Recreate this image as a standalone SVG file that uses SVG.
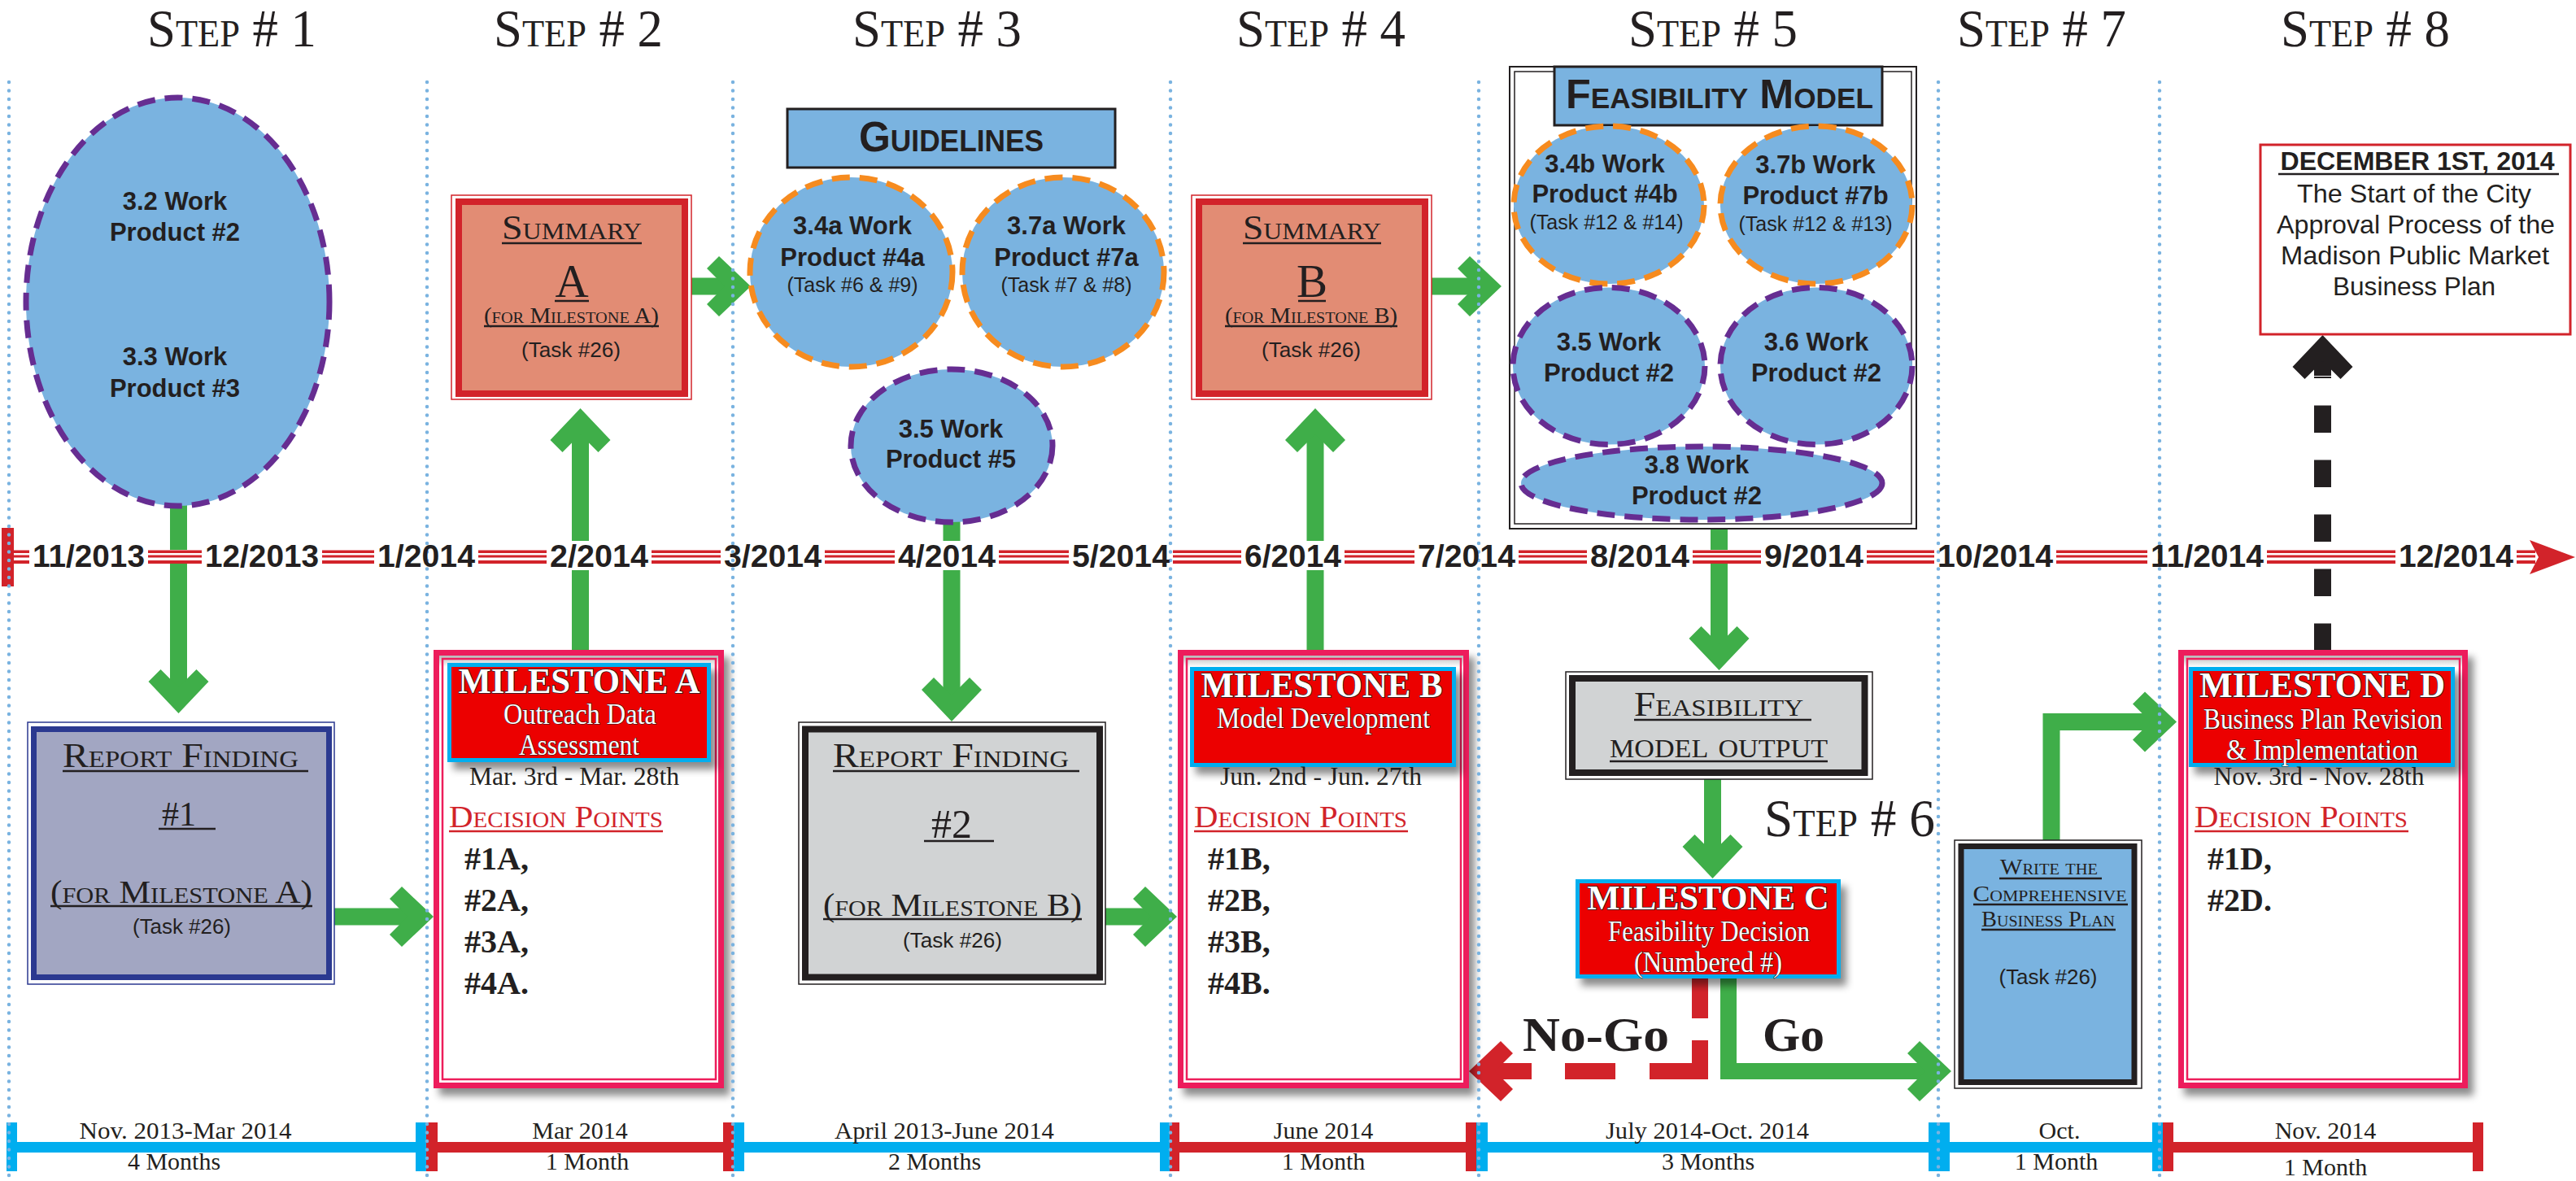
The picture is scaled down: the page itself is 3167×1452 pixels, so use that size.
<svg xmlns="http://www.w3.org/2000/svg" width="3167" height="1452" viewBox="0 0 3167 1452">
<defs>
<style>
.step{font-family:"Liberation Serif",serif;font-size:65px;font-variant:small-caps;fill:#231f20;text-anchor:middle}
.tl{font-family:"Liberation Sans",Arial,sans-serif;font-weight:bold;font-size:39px;fill:#231f20;text-anchor:middle}
.wp{font-family:"Liberation Sans",Arial,sans-serif;font-weight:bold;font-size:31px;fill:#231f20;text-anchor:middle}
.tk{font-family:"Liberation Sans",Arial,sans-serif;font-size:25px;fill:#231f20;text-anchor:middle}
.sc{font-family:"Liberation Serif",serif;font-variant:small-caps;fill:#231f20;text-anchor:middle}
.hd{font-family:"Liberation Sans",Arial,sans-serif;font-weight:bold;font-variant:small-caps;fill:#231f20;text-anchor:middle}
.mt{font-family:"Liberation Serif",serif;font-weight:bold;fill:#fff;stroke:#231f20;stroke-width:1.6px;paint-order:stroke;text-anchor:middle}
.ms{font-family:"Liberation Serif",serif;fill:#fff;stroke:#231f20;stroke-width:1.2px;paint-order:stroke;text-anchor:middle}
.dt{font-family:"Liberation Serif",serif;font-size:31px;fill:#231f20;text-anchor:middle}
.dp{font-family:"Liberation Serif",serif;font-variant:small-caps;font-size:38px;fill:#d2232a}
.pt{font-family:"Liberation Serif",serif;font-weight:bold;font-size:40px;fill:#231f20}
.dur{font-family:"Liberation Serif",serif;font-size:30px;fill:#231f20;text-anchor:middle}
.big{font-family:"Liberation Serif",serif;font-weight:bold;font-size:60px;fill:#231f20;text-anchor:middle}
.dec{font-family:"Liberation Sans",Arial,sans-serif;font-size:32px;fill:#231f20;text-anchor:middle}
.wpE{fill:#7ab3e0;stroke-width:7;stroke-dasharray:22 12}
.pur{stroke:#662d91}
.org{stroke:#f68b1f}
.grid{stroke:#7ab3e0;stroke-width:4.5;stroke-linecap:round;stroke-dasharray:0 10.5;fill:none}
.ul{stroke:#231f20;stroke-width:2.5}
.ulr{stroke:#d2232a;stroke-width:2.5}
.mbox{fill:#fff;stroke:#ed1e5b;stroke-width:7}
.mbi{fill:none;stroke:#ed1e5b;stroke-width:2.5}
.mhb{fill:#00aeef}
.mhr{fill:#ec0000}
.sumO{fill:#fff;stroke:#d2232a;stroke-width:1.5}
.sumI{fill:#e28c74;stroke:#d2232a;stroke-width:8}
.blkO{fill:#fff;stroke:#231f20;stroke-width:1.5}
.g{fill:#3fae49}
.gs{stroke:#3fae49;fill:none;stroke-linejoin:miter}
.bl{fill:#00aeef}
.rd{fill:#d2232a}
</style>
<path id="ah" d="M0,0 L-37,-39 L-22,-54 L0,-32 L22,-54 L37,-39 Z"/>
<filter id="sh" x="-10%" y="-10%" width="130%" height="130%"><feDropShadow dx="7" dy="9" stdDeviation="5" flood-color="#000" flood-opacity="0.45"/></filter>
<linearGradient id="topsh" x1="0" y1="0" x2="0" y2="1"><stop offset="0" stop-color="#9a9a9a" stop-opacity="0.7"/><stop offset="1" stop-color="#9a9a9a" stop-opacity="0"/></linearGradient>
</defs>
<rect x="0" y="0" width="3167" height="1452" fill="#fff"/>

<g id="step-headers">
<text class="step" x="285" y="57" textLength="208" lengthAdjust="spacingAndGlyphs">Step # 1</text>
<text class="step" x="711" y="57" textLength="208" lengthAdjust="spacingAndGlyphs">Step # 2</text>
<text class="step" x="1152" y="57" textLength="208" lengthAdjust="spacingAndGlyphs">Step # 3</text>
<text class="step" x="1624" y="57" textLength="208" lengthAdjust="spacingAndGlyphs">Step # 4</text>
<text class="step" x="2106" y="57" textLength="208" lengthAdjust="spacingAndGlyphs">Step # 5</text>
<text class="step" x="2510" y="57" textLength="208" lengthAdjust="spacingAndGlyphs">Step # 7</text>
<text class="step" x="2908" y="57" textLength="208" lengthAdjust="spacingAndGlyphs">Step # 8</text>
<text class="step" x="2274" y="1028" textLength="210" lengthAdjust="spacingAndGlyphs">Step # 6</text>
</g>

<g id="connectors">
<rect class="g" x="209" y="620" width="21" height="235"/>
<use href="#ah" class="g" transform="translate(219.5,877)"/>
<rect class="g" x="703" y="525" width="21" height="276"/>
<use href="#ah" class="g" transform="translate(713.5,502) rotate(180)"/>
<rect class="g" x="849" y="341.5" width="52" height="21"/>
<use href="#ah" class="g" transform="translate(923,352) rotate(-90)"/>
<rect class="g" x="1759" y="341.5" width="65" height="21"/>
<use href="#ah" class="g" transform="translate(1846,352) rotate(-90)"/>
<rect class="g" x="1159.5" y="640" width="21" height="225"/>
<use href="#ah" class="g" transform="translate(1170,887)"/>
<rect class="g" x="1606.5" y="525" width="21" height="276"/>
<use href="#ah" class="g" transform="translate(1617,502) rotate(180)"/>
<rect class="g" x="2103" y="649" width="21" height="153"/>
<use href="#ah" class="g" transform="translate(2113.5,824)"/>
<rect class="g" x="2095" y="957" width="21" height="101"/>
<use href="#ah" class="g" transform="translate(2105.5,1080)"/>
<rect class="g" x="410" y="1116.5" width="102" height="21"/>
<use href="#ah" class="g" transform="translate(533,1127) rotate(-90)"/>
<rect class="g" x="1358" y="1116.5" width="68" height="21"/>
<use href="#ah" class="g" transform="translate(1447,1127) rotate(-90)"/>
<path class="gs" stroke-width="21" d="M2522,1034 L2522,887.5 L2656,887.5"/>
<use href="#ah" class="g" transform="translate(2676,887.5) rotate(-90)"/>
<path class="gs" stroke-width="20" d="M2125,1202 L2125,1317 L2378,1317"/>
<use href="#ah" class="g" transform="translate(2399,1317) rotate(-90)"/>
<path d="M2090,1202 L2090,1317 L1830,1317" fill="none" stroke="#d2232a" stroke-width="20" stroke-dasharray="50 27 100 42 62 41 200"/>
<use href="#ah" class="rd" transform="translate(1806,1317) rotate(90)"/>
<line x1="2855.5" y1="800" x2="2855.5" y2="463" stroke="#231f20" stroke-width="21" stroke-dasharray="33.5 33.5"/>
<rect x="2845" y="438" width="21" height="24" fill="#231f20"/>
<use href="#ah" fill="#231f20" transform="translate(2855.5,412) rotate(180)"/>
</g>

<g id="wp-3-2-3-3">
<ellipse class="wpE pur" cx="218.5" cy="371" rx="186.5" ry="251"/>
<text class="wp" x="215" y="258">3.2 Work</text>
<text class="wp" x="215" y="296">Product #2</text>
<text class="wp" x="215" y="449">3.3 Work</text>
<text class="wp" x="215" y="488">Product #3</text>
</g>

<g id="summary-a">
<rect class="sumO" x="555" y="240" width="295" height="251"/>
<rect class="sumI" x="564" y="248" width="278" height="236"/>
<text class="sc" x="703" y="294" font-size="43" textLength="172" lengthAdjust="spacingAndGlyphs">Summary</text>
<line class="ul" x1="617" y1="299" x2="789" y2="299"/>
<text class="sc" x="703" y="365" font-size="57">A</text>
<line class="ul" x1="682" y1="370" x2="724" y2="370"/>
<text class="sc" x="702.5" y="397" font-size="27" textLength="215" lengthAdjust="spacingAndGlyphs">(for Milestone A)</text>
<line class="ul" x1="595" y1="401" x2="810" y2="401" stroke-width="1.5"/>
<text class="tk" x="702" y="439" font-size="27" textLength="122" lengthAdjust="spacingAndGlyphs">(Task #26)</text>
</g>

<g id="summary-b">
<rect class="sumO" x="1465" y="240" width="295" height="251"/>
<rect class="sumI" x="1474" y="248" width="278" height="236"/>
<text class="sc" x="1613" y="294" font-size="43" textLength="170" lengthAdjust="spacingAndGlyphs">Summary</text>
<line class="ul" x1="1528" y1="299" x2="1698" y2="299"/>
<text class="sc" x="1613" y="365" font-size="57">B</text>
<line class="ul" x1="1596" y1="370" x2="1630" y2="370"/>
<text class="sc" x="1612" y="397" font-size="27" textLength="212" lengthAdjust="spacingAndGlyphs">(for Milestone B)</text>
<line class="ul" x1="1506" y1="401" x2="1718" y2="401" stroke-width="1.5"/>
<text class="tk" x="1612" y="439" font-size="27" textLength="122" lengthAdjust="spacingAndGlyphs">(Task #26)</text>
</g>

<g id="guidelines">
<rect x="968" y="134" width="403" height="72" fill="#7ab3e0" stroke="#231f20" stroke-width="3"/>
<text class="hd" x="1169.5" y="186" font-size="51" textLength="227" lengthAdjust="spacingAndGlyphs">Guidelines</text>
</g>

<g id="wp-3-4a">
<ellipse class="wpE org" cx="1046.5" cy="334.5" rx="124.5" ry="116.5"/>
<text class="wp" x="1048" y="288">3.4a Work</text>
<text class="wp" x="1048" y="327">Product #4a</text>
<text class="tk" x="1048" y="359">(Task #6 &amp; #9)</text>
</g>
<g id="wp-3-7a">
<ellipse class="wpE org" cx="1307" cy="334.5" rx="124" ry="116.5"/>
<text class="wp" x="1311" y="288">3.7a Work</text>
<text class="wp" x="1311" y="327">Product #7a</text>
<text class="tk" x="1311" y="359">(Task #7 &amp; #8)</text>
</g>
<g id="wp-3-5-5">
<ellipse class="wpE pur" cx="1170" cy="548" rx="124" ry="94"/>
<text class="wp" x="1169" y="538">3.5 Work</text>
<text class="wp" x="1169" y="575">Product #5</text>
</g>

<g id="feasibility-model">
<rect x="1856" y="82" width="500" height="568" fill="#fff" stroke="#231f20" stroke-width="2"/>
<rect x="1862" y="88" width="488" height="556" fill="none" stroke="#231f20" stroke-width="1.5"/>
<rect x="1911" y="82" width="403" height="72" fill="#7ab3e0" stroke="#231f20" stroke-width="3"/>
<text class="hd" x="2114" y="133" font-size="50" textLength="378" lengthAdjust="spacingAndGlyphs">Feasibility Model</text>
</g>
<g id="wp-3-4b">
<ellipse class="wpE org" cx="1978" cy="252" rx="117" ry="97"/>
<text class="wp" x="1973" y="212">3.4b Work</text>
<text class="wp" x="1973" y="249">Product #4b</text>
<text class="tk" x="1975" y="282">(Task #12 &amp; #14)</text>
</g>
<g id="wp-3-7b">
<ellipse class="wpE org" cx="2233" cy="252" rx="118" ry="97"/>
<text class="wp" x="2232" y="213">3.7b Work</text>
<text class="wp" x="2232" y="251">Product #7b</text>
<text class="tk" x="2232" y="284">(Task #12 &amp; #13)</text>
</g>
<g id="wp-3-5-2">
<ellipse class="wpE pur" cx="1978" cy="450" rx="118" ry="96.5"/>
<text class="wp" x="1978" y="431">3.5 Work</text>
<text class="wp" x="1978" y="469">Product #2</text>
</g>
<g id="wp-3-6">
<ellipse class="wpE pur" cx="2233" cy="450" rx="118" ry="96.5"/>
<text class="wp" x="2233" y="431">3.6 Work</text>
<text class="wp" x="2233" y="469">Product #2</text>
</g>
<g id="wp-3-8">
<ellipse class="wpE pur" cx="2092" cy="594" rx="222" ry="45"/>
<text class="wp" x="2086" y="582">3.8 Work</text>
<text class="wp" x="2086" y="620">Product #2</text>
</g>

<g id="december">
<rect x="2779" y="178" width="381" height="233" fill="#fff" stroke="#d2232a" stroke-width="3"/>
<text class="dec" x="2972" y="209" font-weight="bold" font-size="30" textLength="337" lengthAdjust="spacingAndGlyphs">DECEMBER 1ST, 2014</text>
<line class="ul" x1="2801" y1="214" x2="3146" y2="214"/>
<text class="dec" x="2968" y="249" textLength="288" lengthAdjust="spacingAndGlyphs">The Start of the City</text>
<text class="dec" x="2970" y="287" textLength="342" lengthAdjust="spacingAndGlyphs">Approval Process of the</text>
<text class="dec" x="2969" y="325" textLength="330" lengthAdjust="spacingAndGlyphs">Madison Public Market</text>
<text class="dec" x="2968" y="363" textLength="200" lengthAdjust="spacingAndGlyphs">Business Plan</text>
</g>

<g id="report-finding-1">
<rect x="34" y="888" width="377" height="322" fill="#fff" stroke="#2b3990" stroke-width="1.5"/>
<rect x="41.5" y="896.5" width="363" height="305" fill="#a2a6c2" stroke="#2b3990" stroke-width="7"/>
<text class="sc" x="222" y="943" font-size="42" textLength="290" lengthAdjust="spacingAndGlyphs">Report Finding</text>
<line class="ul" x1="77" y1="948" x2="379" y2="948"/>
<text class="sc" x="220" y="1015" font-size="42">#1</text>
<line class="ul" x1="195" y1="1019" x2="265" y2="1019"/>
<text class="sc" x="223" y="1110" font-size="40" textLength="322" lengthAdjust="spacingAndGlyphs">(for Milestone A)</text>
<line class="ul" x1="62" y1="1114" x2="384" y2="1114"/>
<text class="tk" x="223.5" y="1148" font-size="27" textLength="121" lengthAdjust="spacingAndGlyphs">(Task #26)</text>
</g>

<g id="report-finding-2">
<rect class="blkO" x="982" y="888" width="377" height="322"/>
<rect x="990" y="896.5" width="362" height="305" fill="#d1d3d4" stroke="#231f20" stroke-width="8"/>
<text class="sc" x="1169" y="943" font-size="42" textLength="290" lengthAdjust="spacingAndGlyphs">Report Finding</text>
<line class="ul" x1="1024" y1="948" x2="1327" y2="948"/>
<text class="sc" x="1170" y="1030" font-size="50">#2</text>
<line class="ul" x1="1136" y1="1034" x2="1222" y2="1034"/>
<text class="sc" x="1171" y="1126" font-size="40" textLength="318" lengthAdjust="spacingAndGlyphs">(for Milestone B)</text>
<line class="ul" x1="1012" y1="1130" x2="1330" y2="1130"/>
<text class="tk" x="1171" y="1165" font-size="27" textLength="122" lengthAdjust="spacingAndGlyphs">(Task #26)</text>
</g>

<g id="milestone-a">
<rect class="mbox" x="536.5" y="802.5" width="350" height="532" filter="url(#sh)"/>
<rect x="540" y="806" width="343" height="14" fill="url(#topsh)"/>
<rect class="mbi" x="544" y="810" width="336" height="517"/>
<rect class="mhb" x="550" y="815" width="324" height="122" filter="url(#sh)"/>
<rect class="mhr" x="555" y="820" width="314" height="112"/>
<text class="mt" x="712" y="852" font-size="44" textLength="297" lengthAdjust="spacingAndGlyphs">MILESTONE A</text>
<text class="ms" x="713" y="890" font-size="35" textLength="188" lengthAdjust="spacingAndGlyphs">Outreach Data</text>
<text class="ms" x="712" y="928" font-size="35" textLength="148" lengthAdjust="spacingAndGlyphs">Assessment</text>
<text class="dt" x="706" y="965" textLength="258" lengthAdjust="spacingAndGlyphs">Mar. 3rd - Mar. 28th</text>
<text class="dp" x="552" y="1017" textLength="263" lengthAdjust="spacingAndGlyphs">Decision Points</text>
<line class="ulr" x1="552" y1="1022" x2="815" y2="1022"/>
<text class="pt" x="571" y="1069">#1A,</text>
<text class="pt" x="571" y="1120">#2A,</text>
<text class="pt" x="571" y="1171">#3A,</text>
<text class="pt" x="571" y="1222">#4A.</text>
</g>

<g id="milestone-b">
<rect class="mbox" x="1451.5" y="802.5" width="351" height="532" filter="url(#sh)"/>
<rect x="1455" y="806" width="344" height="14" fill="url(#topsh)"/>
<rect class="mbi" x="1459" y="810" width="337" height="517"/>
<rect class="mhb" x="1463" y="820" width="327" height="123" filter="url(#sh)"/>
<rect class="mhr" x="1468" y="825" width="317" height="113"/>
<text class="mt" x="1625" y="857" font-size="44" textLength="297" lengthAdjust="spacingAndGlyphs">MILESTONE B</text>
<text class="ms" x="1627" y="895" font-size="35" textLength="262" lengthAdjust="spacingAndGlyphs">Model Development</text>
<text class="dt" x="1624" y="965" textLength="248" lengthAdjust="spacingAndGlyphs">Jun. 2nd - Jun. 27th</text>
<text class="dp" x="1468" y="1017" textLength="262" lengthAdjust="spacingAndGlyphs">Decision Points</text>
<line class="ulr" x1="1468" y1="1022" x2="1731" y2="1022"/>
<text class="pt" x="1485" y="1069">#1B,</text>
<text class="pt" x="1485" y="1120">#2B,</text>
<text class="pt" x="1485" y="1171">#3B,</text>
<text class="pt" x="1485" y="1222">#4B.</text>
</g>

<g id="feasibility-output">
<rect class="blkO" x="1925" y="826" width="377" height="132"/>
<rect x="1933" y="834" width="359.5" height="116" fill="#d1d3d4" stroke="#231f20" stroke-width="8"/>
<text class="sc" x="2113" y="880" font-size="43" textLength="208" lengthAdjust="spacingAndGlyphs">Feasibility</text>
<line class="ul" x1="2009" y1="885" x2="2227" y2="885"/>
<text class="sc" x="2113" y="931" font-size="44" textLength="268" lengthAdjust="spacingAndGlyphs">model output</text>
<line class="ul" x1="1979" y1="936" x2="2247" y2="936"/>
</g>

<g id="milestone-c">
<rect class="mhb" x="1937" y="1081" width="326" height="122" filter="url(#sh)"/>
<rect class="mhr" x="1942" y="1086" width="316" height="112"/>
<text class="mt" x="2100" y="1118" font-size="42" textLength="297" lengthAdjust="spacingAndGlyphs">MILESTONE C</text>
<text class="ms" x="2101" y="1157" font-size="35" textLength="248" lengthAdjust="spacingAndGlyphs">Feasibility Decision</text>
<text class="ms" x="2100" y="1195" font-size="35" textLength="182" lengthAdjust="spacingAndGlyphs">(Numbered #)</text>
</g>

<g id="decision-labels">
<text class="big" x="1962" y="1292" textLength="180" lengthAdjust="spacingAndGlyphs">No-Go</text>
<text class="big" x="2205" y="1292" textLength="76" lengthAdjust="spacingAndGlyphs">Go</text>
</g>

<g id="write-plan">
<rect class="blkO" x="2403" y="1033" width="230" height="305"/>
<rect x="2411" y="1040.5" width="213" height="290" fill="#7ab3e0" stroke="#231f20" stroke-width="7"/>
<text class="sc" x="2519" y="1075" font-size="27" textLength="120" lengthAdjust="spacingAndGlyphs">Write the</text>
<line class="ul" x1="2458" y1="1080" x2="2584" y2="1080" stroke-width="2"/>
<text class="sc" x="2520" y="1108" font-size="27" textLength="189" lengthAdjust="spacingAndGlyphs">Comprehensive</text>
<line class="ul" x1="2426" y1="1112" x2="2616" y2="1112" stroke-width="2"/>
<text class="sc" x="2518" y="1139" font-size="27" textLength="164" lengthAdjust="spacingAndGlyphs">Business Plan</text>
<line class="ul" x1="2436" y1="1143" x2="2601" y2="1143" stroke-width="2"/>
<text class="tk" x="2518" y="1210" font-size="27" textLength="121" lengthAdjust="spacingAndGlyphs">(Task #26)</text>
</g>

<g id="milestone-d">
<rect class="mbox" x="2681.5" y="802.5" width="349" height="532" filter="url(#sh)"/>
<rect x="2685" y="806" width="342" height="14" fill="url(#topsh)"/>
<rect class="mbi" x="2689" y="810" width="335" height="517"/>
<rect class="mhb" x="2691" y="820" width="327" height="123" filter="url(#sh)"/>
<rect class="mhr" x="2696" y="825" width="317" height="113"/>
<text class="mt" x="2855" y="857" font-size="44" textLength="302" lengthAdjust="spacingAndGlyphs">MILESTONE D</text>
<text class="ms" x="2856" y="896" font-size="35" textLength="294" lengthAdjust="spacingAndGlyphs">Business Plan Revision</text>
<text class="ms" x="2855" y="934" font-size="35" textLength="236" lengthAdjust="spacingAndGlyphs">&amp; Implementation</text>
<text class="dt" x="2851" y="965" textLength="259" lengthAdjust="spacingAndGlyphs">Nov. 3rd - Nov. 28th</text>
<text class="dp" x="2698" y="1017" textLength="262" lengthAdjust="spacingAndGlyphs">Decision Points</text>
<line class="ulr" x1="2698" y1="1022" x2="2961" y2="1022"/>
<text class="pt" x="2714" y="1069">#1D,</text>
<text class="pt" x="2714" y="1120">#2D.</text>
</g>

<g id="timeline">
<rect x="17" y="676" width="3100" height="17" fill="#fff"/>
<rect class="rd" x="17" y="676.5" width="3100" height="3.5"/>
<rect class="rd" x="17" y="682.5" width="3100" height="3"/>
<rect class="rd" x="17" y="689" width="3100" height="4"/>
<path class="rd" d="M3110,664 L3166,685 L3110,706 L3121,685 Z"/>
<rect class="rd" x="2" y="649" width="15" height="72"/>
<g fill="#fff">
<rect x="36" y="665" width="146" height="36"/>
<rect x="248" y="665" width="148" height="36"/>
<rect x="460" y="665" width="128" height="36"/>
<rect x="672" y="665" width="129" height="36"/>
<rect x="886" y="665" width="128" height="36"/>
<rect x="1100" y="665" width="128" height="36"/>
<rect x="1314" y="665" width="128" height="36"/>
<rect x="1526" y="665" width="127" height="36"/>
<rect x="1739" y="665" width="128" height="36"/>
<rect x="1951" y="665" width="130" height="36"/>
<rect x="2165" y="665" width="130" height="36"/>
<rect x="2378" y="665" width="150" height="36"/>
<rect x="2640" y="665" width="147" height="36"/>
<rect x="2945" y="665" width="149" height="36"/>
</g>
</g>

<g id="duration-bar">
<rect class="bl" x="8" y="1404" width="516" height="13"/>
<rect class="bl" x="8" y="1380" width="13" height="60"/>
<rect class="bl" x="511" y="1380" width="13" height="60"/>
<rect class="rd" x="524" y="1404" width="378" height="13"/>
<rect class="rd" x="524" y="1380" width="14" height="60"/>
<rect class="rd" x="889" y="1380" width="13" height="60"/>
<rect class="bl" x="902" y="1404" width="536" height="13"/>
<rect class="bl" x="902" y="1380" width="13" height="60"/>
<rect class="bl" x="1426" y="1380" width="12" height="60"/>
<rect class="rd" x="1438" y="1404" width="377" height="13"/>
<rect class="rd" x="1438" y="1380" width="12" height="60"/>
<rect class="rd" x="1802" y="1380" width="13" height="60"/>
<rect class="bl" x="1815" y="1404" width="569" height="13"/>
<rect class="bl" x="1815" y="1380" width="14" height="60"/>
<rect class="bl" x="2371" y="1380" width="13" height="60"/>
<rect class="bl" x="2384" y="1404" width="275" height="13"/>
<rect class="bl" x="2384" y="1380" width="13" height="60"/>
<rect class="bl" x="2646" y="1380" width="13" height="60"/>
<rect class="rd" x="2659" y="1404" width="394" height="13"/>
<rect class="rd" x="2659" y="1380" width="13" height="60"/>
<rect class="rd" x="3040" y="1380" width="13" height="60"/>
<text class="dur" x="228" y="1400" textLength="261" lengthAdjust="spacingAndGlyphs">Nov. 2013-Mar 2014</text>
<text class="dur" x="214" y="1438">4 Months</text>
<text class="dur" x="713" y="1400">Mar 2014</text>
<text class="dur" x="722" y="1438">1 Month</text>
<text class="dur" x="1161" y="1400" textLength="270" lengthAdjust="spacingAndGlyphs">April 2013-June 2014</text>
<text class="dur" x="1149" y="1438">2 Months</text>
<text class="dur" x="1627" y="1400">June 2014</text>
<text class="dur" x="1627" y="1438">1 Month</text>
<text class="dur" x="2099" y="1400" textLength="250" lengthAdjust="spacingAndGlyphs">July 2014-Oct. 2014</text>
<text class="dur" x="2100" y="1438">3 Months</text>
<text class="dur" x="2532" y="1400">Oct.</text>
<text class="dur" x="2528" y="1438">1 Month</text>
<text class="dur" x="2859" y="1400">Nov. 2014</text>
<text class="dur" x="2859" y="1445">1 Month</text>
</g>

<g id="grid-lines">
<line class="grid" x1="11" y1="101" x2="11" y2="1452"/>
<line class="grid" x1="525" y1="101" x2="525" y2="1452"/>
<line class="grid" x1="901" y1="101" x2="901" y2="1452"/>
<line class="grid" x1="1439" y1="101" x2="1439" y2="1452"/>
<line class="grid" x1="1818" y1="101" x2="1818" y2="1452"/>
<line class="grid" x1="2383" y1="101" x2="2383" y2="1452"/>
<line class="grid" x1="2655" y1="101" x2="2655" y2="1452"/>
</g>

<g id="timeline-labels">
<text class="tl" x="109" y="697" textLength="138" lengthAdjust="spacingAndGlyphs">11/2013</text>
<text class="tl" x="322" y="697" textLength="140" lengthAdjust="spacingAndGlyphs">12/2013</text>
<text class="tl" x="524" y="697" textLength="120" lengthAdjust="spacingAndGlyphs">1/2014</text>
<text class="tl" x="736.5" y="697" textLength="121" lengthAdjust="spacingAndGlyphs">2/2014</text>
<text class="tl" x="950" y="697" textLength="120" lengthAdjust="spacingAndGlyphs">3/2014</text>
<text class="tl" x="1164" y="697" textLength="120" lengthAdjust="spacingAndGlyphs">4/2014</text>
<text class="tl" x="1378" y="697" textLength="120" lengthAdjust="spacingAndGlyphs">5/2014</text>
<text class="tl" x="1589.5" y="697" textLength="119" lengthAdjust="spacingAndGlyphs">6/2014</text>
<text class="tl" x="1803" y="697" textLength="120" lengthAdjust="spacingAndGlyphs">7/2014</text>
<text class="tl" x="2016" y="697" textLength="122" lengthAdjust="spacingAndGlyphs">8/2014</text>
<text class="tl" x="2230" y="697" textLength="122" lengthAdjust="spacingAndGlyphs">9/2014</text>
<text class="tl" x="2453" y="697" textLength="142" lengthAdjust="spacingAndGlyphs">10/2014</text>
<text class="tl" x="2713.5" y="697" textLength="139" lengthAdjust="spacingAndGlyphs">11/2014</text>
<text class="tl" x="3019.5" y="697" textLength="141" lengthAdjust="spacingAndGlyphs">12/2014</text>
</g>
</svg>
